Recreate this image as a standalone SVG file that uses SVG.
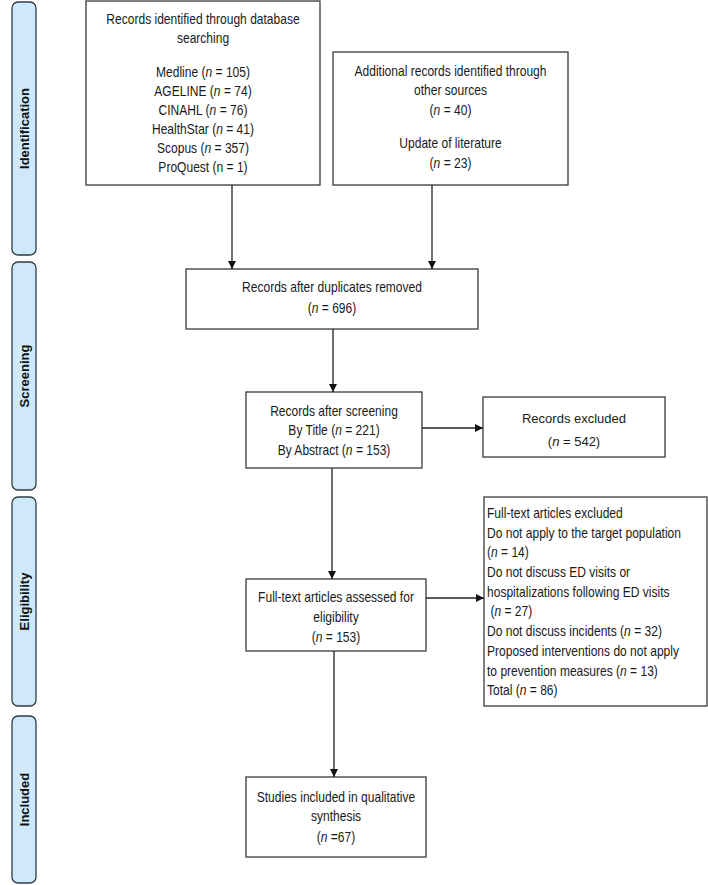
<svg xmlns="http://www.w3.org/2000/svg" width="708" height="885" viewBox="0 0 708 885">
<defs>
<style>
.panel{fill:#cfe9fb;stroke:#2f3b47;stroke-width:1.3}
.plabel{font-family:"Liberation Sans",Arial,sans-serif;font-weight:bold;font-size:13px;fill:#111;text-anchor:middle}
.box{fill:#fff;stroke:#3a3a3a;stroke-width:1.3}
.t{font-family:"Liberation Sans",Arial,sans-serif;font-size:14px;fill:#1a1a1a;text-anchor:middle}
.tl{font-family:"Liberation Sans",Arial,sans-serif;font-size:14px;fill:#1a1a1a}
.tc{font-family:"Liberation Sans",Arial,sans-serif;font-size:13px;fill:#1a1a1a;text-anchor:middle}
.i{font-style:italic}
.c{fill:none;stroke:#222;stroke-width:1.3}
</style>
<marker id="ah" viewBox="0 0 10 10" refX="10" refY="5" markerWidth="8" markerHeight="8" markerUnits="userSpaceOnUse" orient="auto">
<path d="M0,0 L10,5 L0,10 z" fill="#111"/>
</marker>
</defs>
<rect width="708" height="885" fill="#fff"/>

<g id="panel-identification">
<rect class="panel" x="12" y="2" width="24" height="253" rx="6"/>
<text class="plabel" transform="translate(28.5,128.5) rotate(-90)">Identification</text>
</g>
<g id="panel-screening">
<rect class="panel" x="12" y="262" width="24" height="228" rx="6"/>
<text class="plabel" transform="translate(28.5,376) rotate(-90)">Screening</text>
</g>
<g id="panel-eligibility">
<rect class="panel" x="12" y="497" width="24" height="209" rx="6"/>
<text class="plabel" transform="translate(28.5,601.5) rotate(-90)">Eligibility</text>
</g>
<g id="panel-included">
<rect class="panel" x="12" y="716" width="24" height="167" rx="6"/>
<text class="plabel" transform="translate(28.5,799.5) rotate(-90)">Included</text>
</g>

<g id="box-database">
<rect class="box" x="86" y="1" width="234" height="184"/>
<g transform="translate(203,0) scale(0.86,1)">
<text class="t" x="0" y="24.5">Records identified through database</text>
<text class="t" x="0" y="43.5">searching</text>
<text class="t" x="0" y="77">Medline (<tspan class="i">n</tspan> = 105)</text>
<text class="t" x="0" y="96">AGELINE (<tspan class="i">n</tspan> = 74)</text>
<text class="t" x="0" y="115.5">CINAHL (<tspan class="i">n</tspan> = 76)</text>
<text class="t" x="0" y="134.5">HealthStar (<tspan class="i">n</tspan> = 41)</text>
<text class="t" x="0" y="153.5">Scopus (<tspan class="i">n</tspan> = 357)</text>
<text class="t" x="0" y="172.5">ProQuest (n = 1)</text>
</g>
</g>

<g id="box-other">
<rect class="box" x="333" y="52" width="235" height="133"/>
<g transform="translate(450.5,0) scale(0.86,1)">
<text class="t" x="0" y="76">Additional records identified through</text>
<text class="t" x="0" y="95.5">other sources</text>
<text class="t" x="0" y="115">(<tspan class="i">n</tspan> = 40)</text>
<text class="t" x="0" y="148">Update of literature</text>
<text class="t" x="0" y="168">(<tspan class="i">n</tspan> = 23)</text>
</g>
</g>

<g id="box-duplicates">
<rect class="box" x="186" y="269" width="292" height="60"/>
<g transform="translate(332,0) scale(0.86,1)">
<text class="t" x="0" y="292.5">Records after duplicates removed</text>
<text class="t" x="0" y="313.5">(<tspan class="i">n</tspan> = 696)</text>
</g>
</g>

<g id="box-screening">
<rect class="box" x="246" y="392" width="176" height="76"/>
<g transform="translate(334,0) scale(0.86,1)">
<text class="t" x="0" y="416.5">Records after screening</text>
<text class="t" x="0" y="435.5">By Title (<tspan class="i">n</tspan> = 221)</text>
<text class="t" x="0" y="455">By Abstract (<tspan class="i">n</tspan> = 153)</text>
</g>
</g>

<g id="box-excluded">
<rect class="box" x="483" y="397" width="182" height="60"/>
<text class="tc" x="574" y="422.5">Records excluded</text>
<text class="tc" x="574" y="445.5">(<tspan class="i">n</tspan> = 542)</text>
</g>

<g id="box-fulltext">
<rect class="box" x="246" y="579" width="180" height="72"/>
<g transform="translate(336,0) scale(0.86,1)">
<text class="t" x="0" y="602.5">Full-text articles assessed for</text>
<text class="t" x="0" y="622.5">eligibility</text>
<text class="t" x="0" y="642.5">(<tspan class="i">n</tspan> = 153)</text>
</g>
</g>

<g id="box-fulltext-excluded">
<rect class="box" x="484" y="497" width="223" height="209"/>
<g transform="translate(487,0) scale(0.86,1)">
<text class="tl" x="0" y="518">Full-text articles excluded</text>
<text class="tl" x="0" y="537.7">Do not apply to the target population</text>
<text class="tl" x="0" y="557.4">(<tspan class="i">n</tspan> = 14)</text>
<text class="tl" x="0" y="577.1">Do not discuss ED visits or</text>
<text class="tl" x="0" y="596.8">hospitalizations following ED visits</text>
<text class="tl" x="4" y="616.5">(<tspan class="i">n</tspan> = 27)</text>
<text class="tl" x="0" y="636.2">Do not discuss incidents (<tspan class="i">n</tspan> = 32)</text>
<text class="tl" x="0" y="655.9">Proposed interventions do not apply</text>
<text class="tl" x="0" y="675.6">to prevention measures (<tspan class="i">n</tspan> = 13)</text>
<text class="tl" x="0" y="695.3">Total (<tspan class="i">n</tspan> = 86)</text>
</g>
</g>

<g id="box-included">
<rect class="box" x="246" y="777" width="180" height="80"/>
<g transform="translate(336,0) scale(0.86,1)">
<text class="t" x="0" y="802.5">Studies included in qualitative</text>
<text class="t" x="0" y="821.5">synthesis</text>
<text class="t" x="0" y="842.5">(<tspan class="i">n</tspan> =67)</text>
</g>
</g>

<g id="connectors">
<line class="c" x1="232" y1="185" x2="232" y2="269" marker-end="url(#ah)"/>
<line class="c" x1="432" y1="185" x2="432" y2="269" marker-end="url(#ah)"/>
<line class="c" x1="333" y1="329" x2="333" y2="392" marker-end="url(#ah)"/>
<line class="c" x1="422" y1="428" x2="483" y2="428" marker-end="url(#ah)"/>
<line class="c" x1="332" y1="468" x2="332" y2="579" marker-end="url(#ah)"/>
<line class="c" x1="426" y1="598" x2="484" y2="598" marker-end="url(#ah)"/>
<line class="c" x1="334" y1="651" x2="334" y2="777" marker-end="url(#ah)"/>
</g>
</svg>
